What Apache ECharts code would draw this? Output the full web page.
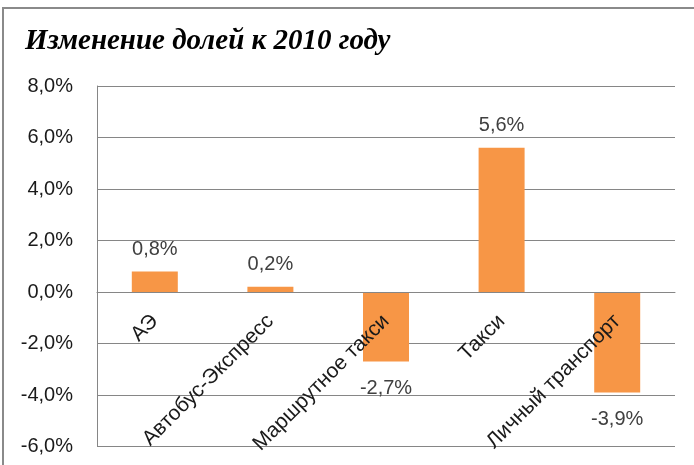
<!DOCTYPE html>
<html>
<head>
<meta charset="utf-8">
<script src="https://cdn.jsdelivr.net/npm/echarts@6/dist/echarts.min.js"></script>
<style>
  html, body { margin: 0; padding: 0; background: #fff; }
  #chart { width: 694px; height: 465px; }
</style>
</head>
<body>
<div id="chart"></div>
<script>
// данные
var categories = ["АЭ", "Автобус-Экспресс", "Маршрутное такси", "Такси", "Личный транспорт"];
var shareChange = [0.8, 0.2, -2.7, 5.6, -3.9];
var yTicks = { min: -6, max: 8, step: 2 };

function pct(v) {
  return v.toFixed(1).replace(".", ",") + "%";
}

var gridTop = 86, gridBottom = 18.5;
var plotH = 465 - gridTop - gridBottom;
// сдвиг оси категорий на нулевую линию
var zeroOffset = -plotH * (0 - yTicks.min) / (yTicks.max - yTicks.min);

var chart = echarts.init(document.getElementById("chart"));

var option = {
  animation: false,
  textStyle: { fontFamily: "Liberation Sans" },
  title: {
    text: "Изменение долей к 2010 году",
    left: 20,
    top: 22,
    textStyle: {
      fontFamily: "Liberation Serif",
      fontStyle: "italic",
      fontWeight: "bold",
      fontSize: 29,
      color: "#000"
    }
  },
  graphic: [
    {
      type: "rect",
      shape: { x: 3, y: 8, width: 720, height: 480 },
      style: { fill: null, stroke: "#8a8a8a", lineWidth: 2 },
      silent: true
    }
  ],
  grid: {
    left: 97, right: 19, top: gridTop, bottom: gridBottom,
    containLabel: false,
    outerBoundsMode: "none"
  },
  xAxis: {
    type: "category",
    data: categories,
    position: "bottom",
    offset: zeroOffset,
    z: 5,
    axisLine: { onZero: false, lineStyle: { color: "#868686" } },
    axisTick: { show: false },
    axisLabel: {
      rotate: 45,
      interval: 0,
      margin: 26,
      fontSize: 21,
      color: "#1a1a1a"
    }
  },
  yAxis: {
    type: "value",
    min: yTicks.min,
    max: yTicks.max,
    interval: yTicks.step,
    axisLine: { show: true, lineStyle: { color: "#868686" } },
    axisTick: { show: false },
    splitLine: { lineStyle: { color: "#868686" } },
    axisLabel: {
      formatter: pct,
      fontSize: 20,
      margin: 24,
      color: "#1a1a1a"
    }
  },
  series: [
    {
      type: "bar",
      barWidth: 46,
      z: 2,
      itemStyle: { color: "#F79646" },
      data: shareChange.map(function (v) {
        return {
          value: v,
          label: {
            position: v >= 0 ? "top" : "bottom",
            distance: v >= 0 ? 12 : 17
          }
        };
      }),
      label: {
        show: true,
        fontSize: 20,
        color: "#404040",
        formatter: function (p) { return pct(p.value); }
      }
    }
  ]
};

chart.setOption(option);
</script>
</body>
</html>
